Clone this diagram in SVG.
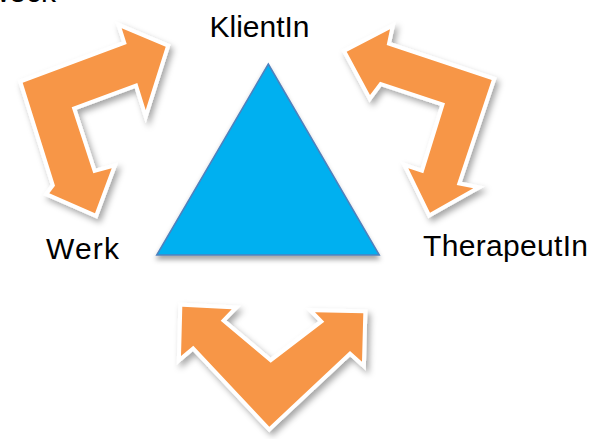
<svg xmlns="http://www.w3.org/2000/svg" width="591" height="439" viewBox="0 0 591 439">
  <style>
    .label { font-family: "Liberation Sans", Arial, sans-serif; font-size: 30px; fill: #000; }
    .arrow { fill: #F79646; stroke: #FFFFFF; stroke-width: 8; stroke-linejoin: miter; paint-order: stroke; filter: url(#shadow); }
    .tri { fill: #00B0F0; stroke: #4F81BD; stroke-width: 1.5; filter: url(#triShadow); }
  </style>
  <defs>
    <filter id="shadow" x="-20%" y="-20%" width="140%" height="140%">
      <feDropShadow dx="3" dy="4" stdDeviation="3" flood-color="#000" flood-opacity="0.35"/>
    </filter>
    <filter id="triShadow" x="-20%" y="-20%" width="140%" height="140%">
      <feDropShadow dx="0" dy="4" stdDeviation="2.5" flood-color="#000" flood-opacity="0.35"/>
    </filter>
  </defs>
  <rect width="591" height="439" fill="#FFFFFF"/>

  <!-- heading running off the top edge -->
  <text class="label" x="56" y="1.5" text-anchor="end">Zweck</text>

  <!-- connectors: bent double arrows between the corners -->
  <g id="connectors">
    <polygon id="arrow-werk-klient" class="arrow" points="165.7,46.7 145.7,110 137.3,83 71.7,107.3 93.3,173.3 111.7,168.3 95,213.3 49.3,193.3 55,185.7 22.7,82.7 126.7,44 121.7,28.3"/>
    <polygon id="arrow-klient-therapeut" class="arrow" points="346.7,51.7 390,29.3 386.7,45 491.7,80 456.7,185 473.3,188.3 430,212.7 408.3,168.3 423.3,173.3 445,103.3 380,81.7 370,95"/>
    <polygon id="arrow-werk-therapeut" class="arrow" points="182.3,306.7 231.7,309.3 220.7,320.7 270.7,362.7 324.3,321.7 315,312.3 363.3,313.3 362,361.7 350,351 269.3,426.7 193.3,345.7 181,356"/>
  </g>

  <g id="triangle">
    <polygon class="tri" points="268.3,64 379.3,255 156.7,255"/>
  </g>

  <g id="node-klient">
    <text class="label" x="259.5" y="37" text-anchor="middle">KlientIn</text>
  </g>
  <g id="node-werk">
    <text class="label" x="46" y="259" textLength="73">Werk</text>
  </g>
  <g id="node-therapeut">
    <text class="label" x="423" y="256" textLength="165">TherapeutIn</text>
  </g>
</svg>
